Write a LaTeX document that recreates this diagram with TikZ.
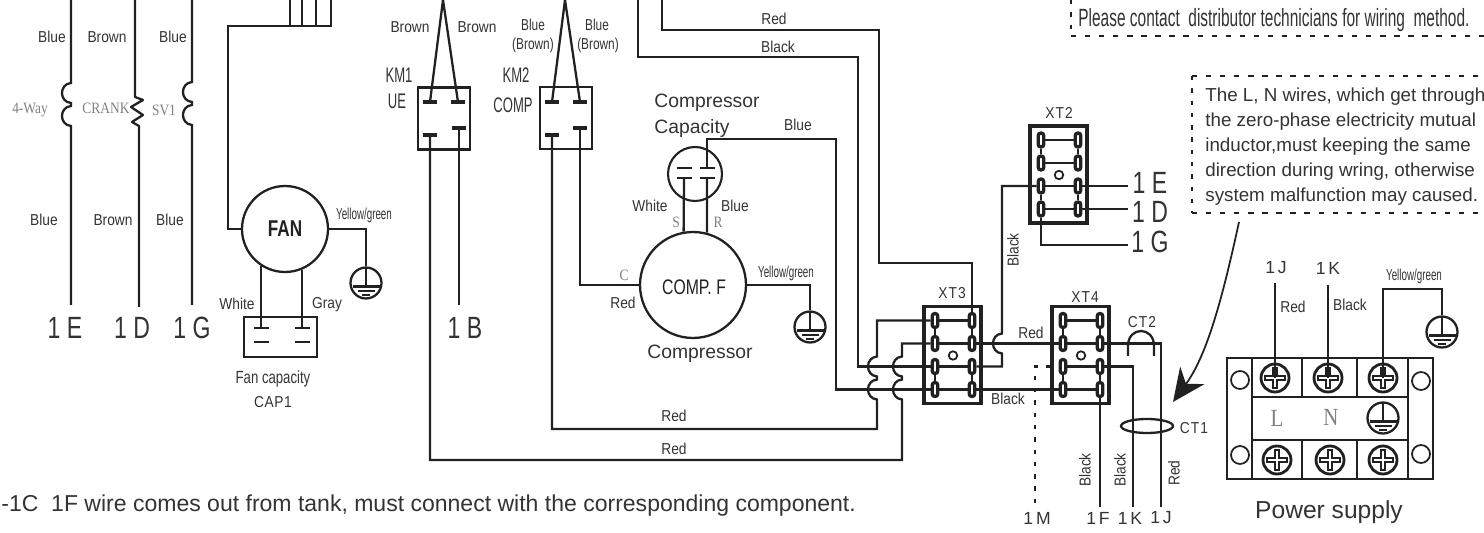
\documentclass[tikz,border=0pt]{standalone}
\usepackage{fontspec}
\usetikzlibrary{arrows.meta,shapes.geometric}
\setmainfont{Liberation Sans}
\newfontfamily\lblfont[FakeStretch=0.87]{Liberation Sans}
\newfontfamily\midfont[FakeStretch=0.75]{Liberation Sans}
\newfontfamily\tightfont[FakeStretch=0.62]{Liberation Sans}
\newfontfamily\grayfont[FakeStretch=0.85]{Liberation Serif}
\definecolor{wirecol}{gray}{0.13}
\definecolor{txtcol}{gray}{0.2}
\definecolor{faintcol}{gray}{0.5}

\tikzset{
  wire/.style={line width=1.3pt,color=wirecol},
  thinwire/.style={line width=1pt,color=wirecol},
  lbl/.style={font=\lblfont\fontsize{9}{10}\selectfont,text=txtcol,inner sep=0pt},
  midlbl/.style={font=\midfont\fontsize{9}{10}\selectfont,text=txtcol,inner sep=0pt},
  yglbl/.style={font=\tightfont\fontsize{9}{10}\selectfont,text=txtcol,inner sep=0pt},
  kmlbl/.style={font=\tightfont\fontsize{12}{13}\selectfont,text=txtcol,inner sep=0pt},
  biglbl/.style={font=\midfont\fontsize{17.5}{18}\selectfont,text=txtcol,inner sep=0pt},
  portlbl/.style={font=\fontsize{10}{11}\selectfont,text=txtcol,inner sep=0pt},
  partlbl/.style={font=\fontsize{11}{12}\selectfont,text=txtcol,inner sep=0pt},
  faintlbl/.style={font=\grayfont\fontsize{9}{10}\selectfont,text=faintcol,inner sep=0pt},
  contact/.style={fill=wirecol,minimum width=0.29cm,minimum height=0.07cm,inner sep=0pt,rectangle},
  plate/.style={fill=wirecol,minimum width=0.3cm,minimum height=0.035cm,inner sep=0pt,rectangle},
  relaybox/.style={draw=wirecol,line width=1.2pt,minimum width=1.04cm,minimum height=1.24cm,inner sep=0pt},
  xtbox/.style={draw=wirecol,line width=1.9pt,minimum width=1.14cm,minimum height=1.94cm,inner sep=0pt},
  xtpin/.style={draw=wirecol,fill=white,line width=1.9pt,rounded corners=1.5pt,minimum width=0.11cm,minimum height=0.28cm,inner sep=0pt},
  xthole/.style={draw=wirecol,line width=1pt,circle,minimum size=0.17cm,inner sep=0pt},
  motor/.style={draw=wirecol,line width=1.3pt,circle,inner sep=0pt},
  earth/.style={draw=wirecol,line width=1.3pt,circle,minimum size=0.62cm,inner sep=0pt,
    path picture={
      \draw[wire] (path picture bounding box.north) -- ([yshift=-0.07cm]path picture bounding box.center);
      \draw[wire] ([xshift=-0.27cm,yshift=-0.07cm]path picture bounding box.center) -- ([xshift=0.27cm,yshift=-0.07cm]path picture bounding box.center);
      \draw[wire] ([xshift=-0.17cm,yshift=-0.16cm]path picture bounding box.center) -- ([xshift=0.17cm,yshift=-0.16cm]path picture bounding box.center);
      \draw[wire] ([xshift=-0.08cm,yshift=-0.24cm]path picture bounding box.center) -- ([xshift=0.08cm,yshift=-0.24cm]path picture bounding box.center);
    }},
  screw/.style={draw=wirecol,line width=1.6pt,circle,minimum size=0.56cm,inner sep=0pt,
    path picture={
      \draw[wirecol,line width=3pt] ([xshift=-0.22cm]path picture bounding box.center) -- ([xshift=0.22cm]path picture bounding box.center);
      \draw[wirecol,line width=3pt] ([yshift=-0.22cm]path picture bounding box.center) -- ([yshift=0.22cm]path picture bounding box.center);
      \draw[white,line width=0.7pt] ([xshift=-0.18cm]path picture bounding box.center) -- ([xshift=0.18cm]path picture bounding box.center);
      \draw[white,line width=0.7pt] ([yshift=-0.18cm]path picture bounding box.center) -- ([yshift=0.18cm]path picture bounding box.center);
    }},
  sidehole/.style={draw=wirecol,line width=1pt,circle,minimum size=0.36cm,inner sep=0pt},
}

% terminal block: name, left edge, top edge
\newcommand{\xtblock}[3]{%
  \node[xtbox] (#1) at (#2+28.5,#3+48.5) {};
  \node[xthole] (#1hole) at (#2+29,#3+49) {};
  \foreach \row/\rowy in {a/14,b/37,c/60,d/83} {
    \node[xtpin] (#1l\row) at (#2+11,#3+\rowy) {};
    \node[xtpin] (#1r\row) at (#2+48,#3+\rowy) {};
    \draw[wire] (#1l\row) -- (#1r\row);
  }
  \draw[wire] (#1la) -- (#1lb);
  \draw[wire] (#1ra) -- (#1rb);
  \draw[wire] (#1lc) -- (#1ld);
  \draw[wire] (#1rc) -- (#1rd);
}
% wire jumping over another one, on its left
\newcommand{\hopleft}[2]{-- (#1,#2-10) .. controls (#1-12,#2-9) and (#1-12,#2+9) .. (#1,#2+10)}

\begin{document}
\begin{tikzpicture}[x=0.02cm,y=-0.02cm]
  \useasboundingbox (0,0) rectangle (1484,533);

  % left branch
  \coordinate (topE) at (71,0);
  \coordinate (topD) at (135,0);
  \coordinate (topG) at (192,0);
  \coordinate (endE) at (71,305);
  \coordinate (endD) at (139,307);
  \coordinate (endG) at (192,305);
  \draw[wire] (topE) \hopleft{71}{93} \hopleft{71}{116} -- (endE);
  \draw[wire,line join=round] (topD) -- (135,97) -- (143,100) -- (131,107) -- (143,115) -- (132,122) -- (139,126) -- (endD);
  \draw[wire] (topG) \hopleft{192}{92} \hopleft{192}{115} -- (endG);

  \node[lbl] (blueA) at (52,37) {Blue};
  \node[lbl] (brownA) at (107,37) {Brown};
  \node[lbl] (blueB) at (173,37) {Blue};
  \node[lbl] (blueC) at (44,220) {Blue};
  \node[lbl] (brownB) at (113,220) {Brown};
  \node[lbl] (blueD) at (170,220) {Blue};
  \node[faintlbl] (fourway) at (30,110) {4-Way};
  \node[faintlbl] (crank) at (106,108) {CRANK};
  \node[faintlbl] (svone) at (164,110) {SV1};
  \node[biglbl] (oneE) at (65,328) {1 E};
  \node[biglbl] (oneD) at (132,328) {1 D};
  \node[biglbl] (oneG) at (192,328) {1 G};

  % fan
  \node[motor,minimum size=1.72cm] (fan) at (285,229) {};
  \node[font=\bfseries\midfont\fontsize{13}{14}\selectfont,text=wirecol,inner sep=0pt] (fantext) at (285,229) {FAN};
  \coordinate (fanturn) at (228,26);
  \foreach \n/\x in {a/290,b/302,c/316} {
    \coordinate (fantop\n) at (\x,0);
    \coordinate (fanjoin\n) at (\x,26);
    \draw[wire] (fantop\n) -- (fanjoin\n);
  }
  \coordinate (fantopd) at (331,0);
  \draw[wire] (fantopd) |- (fanturn) |- (fan.west);
  \node[earth] (gndfan) at (366,283) {};
  \draw[wire] (fan.east) -| (gndfan.north);
  \node[yglbl] (ygfan) at (364,215) {Yellow/green};
  \node[draw=wirecol,line width=1.2pt,minimum width=1.46cm,minimum height=0.8cm,inner sep=0pt] (fancap) at (280.5,337) {};
  \node[plate] (fanplateA) at (261,328) {};
  \node[plate] (fanplateB) at (261,342) {};
  \node[plate] (fanplateC) at (302,328) {};
  \node[plate] (fanplateD) at (302,342) {};
  \draw[wire] (fanplateA.north |- fan.-124) -- (fanplateA.north);
  \draw[wire] (fanplateC.north |- fan.-67) -- (fanplateC.north);
  \node[lbl] (white) at (237,304) {White};
  \node[lbl] (gray) at (327,305) {Gray};
  \node[midlbl,font=\midfont\fontsize{10}{11}\selectfont] (fancaptext) at (273,379) {Fan capacity};
  \node[lbl] (capone) at (273,402) {C\kern.3pt A\kern.3pt P\kern.3pt 1};

  % relays
  \node[relaybox] (KMone) at (444,118.5) {};
  \node[contact] (kmAtl) at (430,102) {};
  \node[contact] (kmAtr) at (458,102) {};
  \node[contact] (kmAbl) at (430,135) {};
  \node[contact] (kmAbr) at (459,128) {};
  \coordinate (apexA) at (443,0);
  \draw[wire] (apexA) -- (kmAtl);
  \draw[wire] (apexA) -- (kmAtr);
  \coordinate (endB) at (459,305);
  \draw[wire] (kmAbr) -- (endB);
  \node[lbl] (brownC) at (410,27) {Brown};
  \node[lbl] (brownD) at (477,27) {Brown};
  \node[kmlbl] (kmA) at (399,75) {KM1};
  \node[kmlbl] (ue) at (397,101) {UE};
  \node[biglbl] (oneB) at (465,328) {1 B};

  \node[relaybox] (KMtwo) at (566,118) {};
  \node[contact] (kmBtl) at (552,102) {};
  \node[contact] (kmBtr) at (580,102) {};
  \node[contact] (kmBbl) at (552,135) {};
  \node[contact] (kmBbr) at (580,128) {};
  \coordinate (apexB) at (565,0);
  \draw[wire] (apexB) -- (kmBtl);
  \draw[wire] (apexB) -- (kmBtr);
  \node[midlbl] (blueE) at (533,25) {Blue};
  \node[midlbl] (brownE) at (533,45) {(Brown)};
  \node[midlbl] (blueF) at (597,25) {Blue};
  \node[midlbl] (brownF) at (598,45) {(Brown)};
  \node[kmlbl] (kmB) at (516,75) {KM2};
  \node[kmlbl] (comptext) at (513,105) {COMP};

  % compressor
  \node[motor,minimum size=2.12cm] (comp) at (693,285) {};
  \node[font=\midfont\fontsize{12}{13}\selectfont,text=wirecol,inner sep=0pt] (compf) at (694,287) {COMP. F};
  \node[motor,line width=1.2pt,minimum size=1.08cm] (compcap) at (695,174) {};
  \node[plate] (capplateA) at (684,178) {};
  \node[plate] (capplateB) at (684,168) {};
  \node[plate] (capplateC) at (707,178) {};
  \node[plate] (capplateD) at (707,168) {};
  \draw[wire] (comp.100) -- (capplateA.south);
  \draw[wire] (comp.75) -- (capplateC.south);
  \draw[wire] (kmBbr) |- (comp.west);
  \node[earth] (gndcomp) at (810,327) {};
  \draw[wire] (comp.east) -| (gndcomp.north);
  \node[partlbl,anchor=west] (compressA) at (654,103) {Compressor};
  \node[partlbl,anchor=west] (compressB) at (654,129) {Capacity};
  \node[partlbl] (compressC) at (700,354) {Compressor};
  \node[lbl] (whiteB) at (650,206) {White};
  \node[lbl] (blueG) at (735,206) {Blue};
  \node[lbl] (blueH) at (798,125) {Blue};
  \node[faintlbl] (portS) at (676,222) {S};
  \node[faintlbl] (portR) at (718,222) {R};
  \node[faintlbl] (portC) at (624,275) {C};
  \node[lbl] (redA) at (623,303) {Red};
  \node[yglbl] (ygcomp) at (786,273) {Yellow/green};

  % terminal blocks
  \xtblock{XTtwo}{1030}{126}
  \xtblock{XTthree}{924}{306.5}
  \xtblock{XTfour}{1052}{306.5}
  \node[lbl] (xtBtext) at (1059,113) {X\kern.6pt T\kern.6pt 2};
  \node[lbl] (xtCtext) at (952,293) {X\kern.6pt T\kern.6pt 3};
  \node[lbl] (xtDtext) at (1085,297) {X\kern.6pt T\kern.6pt 4};

  % long wires
  \coordinate (topRed) at (662,0);
  \coordinate (redturnA) at (879,30);
  \coordinate (redturnB) at (879,263);
  \draw[wire] (topRed) |- (redturnA) -- (redturnB) -| (XTthreera.north);
  \coordinate (topBlack) at (638,0);
  \coordinate (blackturn) at (858,57);
  \draw[wire] (topBlack) |- (blackturn) |- (XTthreelc);
  \coordinate (blueturn) at (836,139);
  \draw[wire] (capplateD.north) |- (blueturn) |- (XTthreeld);
  \coordinate (redturnC) at (877,320.5);
  \coordinate (redturnD) at (877,429);
  \draw[wire] (XTthreela) -- (redturnC) \hopleft{877}{366.5} \hopleft{877}{389.5} -- (redturnD) -| (kmBbl);
  \coordinate (redturnE) at (902,343.5);
  \coordinate (redturnF) at (902,460);
  \draw[wire] (XTthreelb) -- (redturnE) \hopleft{902}{366.5} \hopleft{902}{389.5} -- (redturnF) -| (kmAbl);
  \coordinate (blackturnB) at (1002,186);
  \coordinate (blackturnC) at (1002,366.5);
  \draw[wire] (XTtwolc) -- (blackturnB) \hopleft{1002}{343.5} -- (blackturnC) -- (XTthreerc);
  \draw[wire] (XTthreerb) -- (XTfourlb);
  \draw[wire] (XTthreerd) -- (XTfourld);

  % mains side
  \coordinate (endJ) at (1161,507);
  \coordinate (endK) at (1133,507);
  \coordinate (endF) at (1100,507);
  \coordinate (endM) at (1035,505);
  \draw[wire] (XTfourrb) -| (endJ);
  \draw[wire] (XTfourrc) -| (endK);
  \draw[wire] (XTfourrd) -- (endF);
  \draw[wirecol,line width=1.6pt,dash pattern=on 2.5pt off 4.5pt] (XTfour.west |- XTfourlc) -| (endM);
  \coordinate (ctarcA) at (1128,356);
  \coordinate (ctarcB) at (1154,356);
  \draw[wire] (ctarcA) -- (1128,346) .. controls (1128,326) and (1154,326) .. (1154,346) -- (ctarcB);
  \node[draw=wirecol,line width=1.3pt,ellipse,minimum width=1.04cm,minimum height=0.28cm,inner sep=0pt] (ctone) at (1147,426) {};
  \node[lbl] (cttwotext) at (1142,322) {C\kern.6pt T\kern.6pt 2};
  \node[lbl] (ctonetext) at (1194,428) {C\kern.6pt T\kern.6pt 1};
  \node[lbl] (redB) at (1031,333) {Red};
  \node[lbl] (blackA) at (1008,399) {Black};
  \node[lbl,rotate=90] (blackB) at (1085,470) {Black};
  \node[lbl,rotate=90] (blackC) at (1120,470) {Black};
  \node[lbl,rotate=90] (redC) at (1174,473) {Red};
  \node[lbl,rotate=90] (blackD) at (1013,250) {Black};
  \node[portlbl] (oneM) at (1037,518) {1\,M};
  \node[portlbl] (oneF) at (1098,518) {1\,F};
  \node[portlbl] (oneK) at (1130,518) {1\,K};
  \node[portlbl] (oneJ) at (1161,518) {1\,J};

  % XT2 outputs
  \coordinate (outE) at (1128,186);
  \coordinate (outD) at (1128,209);
  \coordinate (outG) at (1128,245);
  \draw[wire] (XTtworc) -- (outE);
  \draw[wire] (XTtword) -- (outD);
  \draw[wire] (XTtwold) |- (outG);
  \node[biglbl] (outEtext) at (1150,183) {1 E};
  \node[biglbl] (outDtext) at (1150,212) {1 D};
  \node[biglbl] (outGtext) at (1150,242) {1 G};

  % labels on top wires and bottom wires
  \node[lbl] (redD) at (774,19) {Red};
  \node[lbl] (blackE) at (778,47) {Black};
  \node[lbl] (redE) at (674,416) {Red};
  \node[lbl] (redF) at (674,449) {Red};
  \node[font=\fontsize{13.1}{14}\selectfont,text=txtcol,inner sep=0pt,anchor=west] (tanknote) at (1,506) {-1C\ \ 1F wire comes out from tank, must connect with the corresponding component.};

  % notes
  \coordinate (noteAtop) at (1071,0);
  \coordinate (noteAcorner) at (1071,36);
  \coordinate (noteAend) at (1484,36);
  \draw[wirecol,line width=1.5pt,dash pattern=on 2.5pt off 4.5pt] (noteAtop) -- (noteAcorner);
  \draw[wirecol,line width=1.2pt,dash pattern=on 3pt off 5pt] (noteAcorner) -- (noteAend);
  \node[font=\tightfont\fontsize{14.2}{15}\selectfont,text=txtcol,inner sep=0pt,anchor=west] (noteA) at (1078,20) {Please contact\ \ distributor technicians for wiring\ \ method.};
  \coordinate (noteBtop) at (1192,76);
  \coordinate (noteBbot) at (1192,213);
  \coordinate (noteBendA) at (1484,76);
  \coordinate (noteBendB) at (1484,213);
  \draw[wirecol,line width=1.5pt,dash pattern=on 2.5pt off 4.5pt] (noteBtop) -- (noteBbot);
  \draw[wirecol,line width=1.2pt,dash pattern=on 3pt off 5pt] (noteBtop) -- (noteBendA);
  \draw[wirecol,line width=1.2pt,dash pattern=on 3pt off 5pt] (noteBbot) -- (noteBendB);
  \node[partlbl,font=\fontsize{10.7}{14.2}\selectfont,anchor=north west,align=left] (noteB) at (1205,88) {The L, N wires, which get through\\the zero-phase electricity mutual\\inductor,must keeping the same\\direction during wring, otherwise\\system malfunction may caused.};
  \coordinate (arrowstart) at (1239,222);
  \coordinate (arrowtip) at (1173,402);
  \draw[thinwire,-{Stealth[length=0.66cm,width=0.6cm]}] (arrowstart) .. controls (1222,300) and (1207,355) .. (arrowtip);

  % power supply
  \node[draw=wirecol,line width=1.3pt,minimum width=4.12cm,minimum height=2.42cm,inner sep=0pt] (power) at (1330,418.5) {};
  \draw[wire] (1252,358) -- (1252,479);
  \draw[wire] (1408,358) -- (1408,479);
  \draw[wire] (1252,397) -- (1408,397);
  \draw[wire] (1252,440) -- (1408,440);
  \foreach \x in {1302,1357} {
    \draw[wire] (\x,358) -- (\x,397);
    \draw[wire] (\x,440) -- (\x,479);
  }
  \node[sidehole] (holeA) at (1240,380) {};
  \node[sidehole] (holeB) at (1240,455) {};
  \node[sidehole] (holeC) at (1421,381) {};
  \node[sidehole] (holeD) at (1421,454) {};
  \node[screw] (screwL) at (1275,378) {};
  \node[screw] (screwN) at (1328,378) {};
  \node[screw] (screwE) at (1383,378) {};
  \node[screw] (screwLb) at (1277,460) {};
  \node[screw] (screwNb) at (1330,460) {};
  \node[screw] (screwEb) at (1383,460) {};
  \node[earth] (gndplate) at (1383,418) {};
  \node[font=\grayfont\fontsize{14}{15}\selectfont,text=faintcol,inner sep=0pt] (letterL) at (1277,418) {L};
  \node[font=\grayfont\fontsize{14}{15}\selectfont,text=faintcol,inner sep=0pt] (letterN) at (1331,417) {N};
  \coordinate (startJ) at (1275,283);
  \coordinate (startK) at (1328,285);
  \coordinate (earthturn) at (1442,289);
  \draw[wire] (startJ) -- (screwL.center);
  \draw[wire] (startK) -- (screwN.center);
  \node[earth] (gndpower) at (1442,332) {};
  \draw[wire] (screwE.center) |- (earthturn) -- (gndpower.north);
  \node[portlbl] (powerJ) at (1276,268) {1\,J};
  \node[portlbl] (powerK) at (1328,268) {1\,K};
  \node[lbl] (redG) at (1293,307) {Red};
  \node[lbl] (blackF) at (1350,305) {Black};
  \node[yglbl] (ygpower) at (1414,276) {Yellow/green};
  \node[font=\fontsize{14}{15}\selectfont,text=txtcol,inner sep=0pt] (powertext) at (1329,512) {Power supply};
\end{tikzpicture}
\end{document}
